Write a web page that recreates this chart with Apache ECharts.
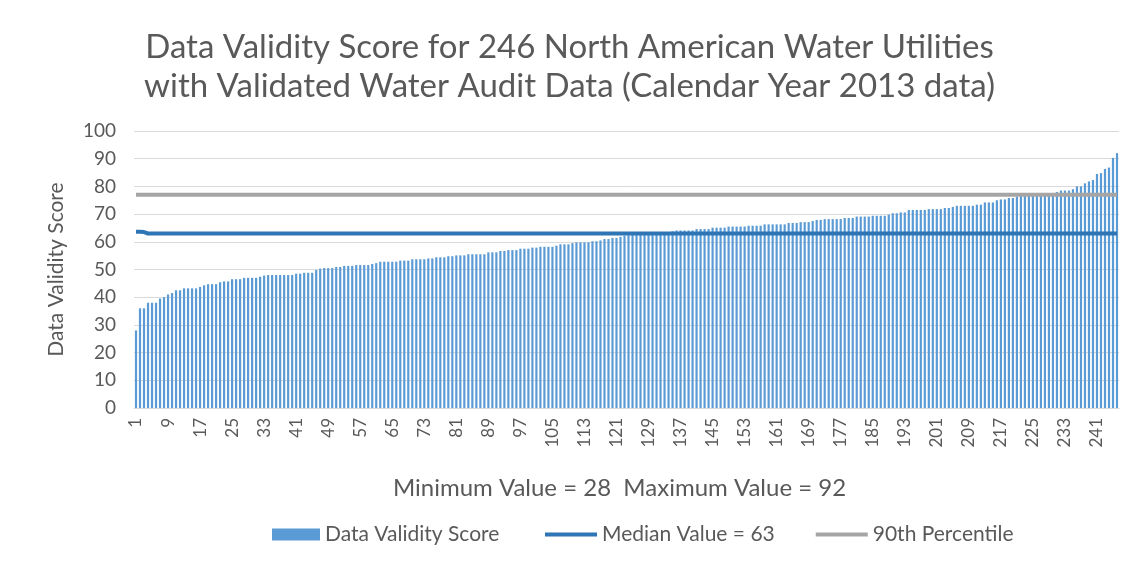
<!DOCTYPE html>
<html>
<head>
<meta charset="utf-8">
<title>Data Validity Score</title>
<script src="https://cdn.jsdelivr.net/npm/echarts@6/dist/echarts.min.js"></script>
<style>
  html, body { margin: 0; padding: 0; background: #fff; }
  #chart { width: 1139px; height: 564px; }
</style>
</head>
<body>
<div id="chart"></div>
<script>
// scores of the 246 utilities, sorted ascending
const scores = [
  28, 36, 36, 38, 38, 38, 39.5, 40, 41, 41.5,
  42.5, 42.5, 43.2, 43.2, 43.2, 43.2, 43.7, 44.3, 44.7, 44.7,
  44.7, 45.4, 45.7, 45.7, 46.5, 46.5, 46.5, 47, 47, 47,
  47, 47.4, 47.8, 48, 48, 48, 48, 48, 48, 48,
  48.5, 48.5, 48.8, 48.8, 48.8, 49.8, 50.3, 50.5, 50.5, 50.5,
  50.9, 50.9, 51.3, 51.3, 51.3, 51.6, 51.6, 51.6, 51.6, 52,
  52.3, 52.8, 52.8, 52.8, 52.8, 52.8, 53.2, 53.2, 53.2, 53.7,
  53.7, 53.7, 53.7, 54, 54, 54.4, 54.4, 54.4, 54.8, 54.8,
  55.1, 55.1, 55.1, 55.5, 55.5, 55.5, 55.5, 55.5, 56.2, 56.2,
  56.2, 56.7, 56.7, 57, 57, 57, 57.5, 57.5, 57.5, 57.9,
  57.9, 58.2, 58.2, 58.2, 58.2, 58.6, 59.1, 59.1, 59.1, 59.5,
  59.8, 59.8, 59.8, 59.8, 60.2, 60.2, 60.5, 61, 61, 61.4,
  61.4, 61.8, 62.2, 62.4, 62.6, 62.8, 63, 63, 63, 63,
  63.2, 63.3, 63.4, 63.5, 63.8, 64.1, 64.1, 64.1, 64.1, 64.1,
  64.6, 64.6, 64.6, 64.6, 65.1, 65.1, 65.1, 65.1, 65.5, 65.5,
  65.5, 65.5, 65.5, 65.8, 65.8, 65.8, 65.8, 66.3, 66.3, 66.3,
  66.3, 66.3, 66.3, 66.8, 66.8, 66.8, 67.1, 67.1, 67.1, 67.5,
  67.9, 67.9, 68.2, 68.2, 68.2, 68.2, 68.2, 68.6, 68.6, 68.6,
  69.1, 69.1, 69.1, 69.1, 69.4, 69.4, 69.4, 69.4, 69.8, 70.3,
  70.3, 70.6, 70.6, 71.5, 71.5, 71.5, 71.5, 71.5, 71.8, 71.8,
  71.8, 71.8, 72.2, 72.2, 72.6, 73, 73, 73, 73, 73,
  73.4, 73.4, 74.2, 74.2, 74.2, 75, 75.3, 75.3, 75.8, 75.8,
  76.3, 76.5, 76.7, 76.8, 77, 77, 77, 77.2, 77.4, 77.6,
  78, 78.5, 78.5, 78.5, 79, 80, 80, 81.1, 81.8, 82.3,
  84.5, 84.8, 86.3, 86.8, 90.3, 92
];

// utility number 1..246 on the x axis
const utilities = scores.map((_, i) => String(i + 1));

// median line: the first points sit a hair higher in the original
const medianValue = 63;
const medianStart = [63.6, 63.6, 63.5];
const percentile90 = 77;

const medianLine = utilities.map((_, i) => i < medianStart.length ? medianStart[i] : medianValue);
const percentileLine = utilities.map(() => percentile90);

const font = 'Lato, "Open Sans", sans-serif';
const textColor = '#595959';

const chart = echarts.init(document.getElementById('chart'));

const option = {
    backgroundColor: '#fff',
    animation: false,
    textStyle: { fontFamily: font, color: textColor },
    title: {
        text: 'Data Validity Score for 246 North American Water Utilities\nwith Validated Water Audit Data (Calendar Year 2013 data)',
        left: 'center',
        top: 23,
        textStyle: {
            fontFamily: font,
            fontSize: 33,
            fontWeight: 'normal',
            color: textColor,
            lineHeight: 39
        }
    },
    // two legends: a box for the bars, thin bars for the two lines
    legend: [
        {
            left: 272,
            top: 524,
            padding: 0,
            itemWidth: 48,
            itemHeight: 12,
            icon: 'rect',
            textStyle: { fontFamily: font, fontSize: 21, color: textColor },
            data: ['Data Validity Score']
        },
        {
            left: 545,
            top: 524,
            padding: 0,
            itemWidth: 52,
            itemHeight: 4,
            itemGap: 41,
            icon: 'rect',
            textStyle: { fontFamily: font, fontSize: 21, color: textColor },
            data: ['Median Value = 63', '90th Percentile']
        }
    ],
    grid: {
        left: 134,
        right: 20,
        top: 131,
        bottom: 156
    },
    xAxis: {
        type: 'category',
        data: utilities,
        boundaryGap: true,
        name: 'Minimum Value = 28  Maximum Value = 92',
        nameLocation: 'middle',
        nameGap: 68,
        nameTextStyle: { fontFamily: font, fontSize: 24, color: textColor, padding: [0, 14, 0, 0] },
        axisLine: { show: true, lineStyle: { color: '#d9d9d9' } },
        axisTick: { show: false },
        axisLabel: {
            interval: 7,
            rotate: 90,
            margin: 10,
            fontFamily: font,
            fontSize: 17,
            color: textColor
        }
    },
    yAxis: {
        type: 'value',
        min: 0,
        max: 100,
        interval: 10,
        name: 'Data Validity Score',
        nameLocation: 'middle',
        nameGap: 67,
        nameTextStyle: { fontFamily: font, fontSize: 21, color: textColor },
        axisLine: { show: false },
        axisTick: { show: false },
        axisLabel: { margin: 18, fontFamily: font, fontSize: 19, color: textColor },
        splitLine: { lineStyle: { color: '#d9d9d9', width: 1 } }
    },
    series: [
        {
            name: 'Data Validity Score',
            type: 'bar',
            data: scores,
            barWidth: '55%',
            itemStyle: { color: '#5b9bd5' }
        },
        {
            name: 'Median Value = 63',
            type: 'line',
            data: medianLine,
            symbol: 'none',
            itemStyle: { color: '#2e75b6' },
            lineStyle: { color: '#2e75b6', width: 4 }
        },
        {
            name: '90th Percentile',
            type: 'line',
            data: percentileLine,
            symbol: 'none',
            itemStyle: { color: '#a5a5a5' },
            lineStyle: { color: '#a5a5a5', width: 4 }
        }
    ]
};

chart.setOption(option);
</script>
</body>
</html>
